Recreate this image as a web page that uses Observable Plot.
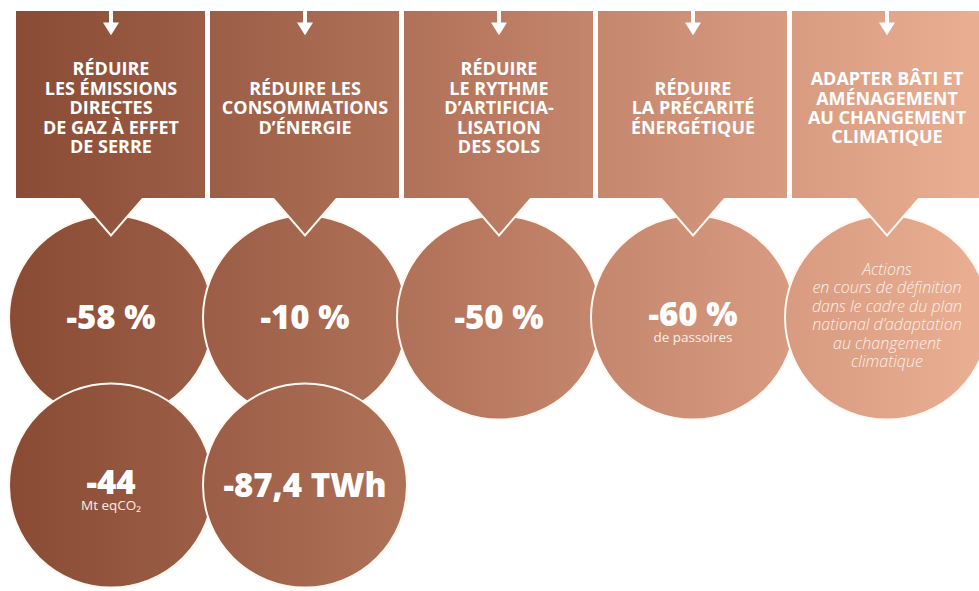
<!DOCTYPE html>
<html>
<head>
<meta charset="utf-8">
<script src="https://cdn.jsdelivr.net/npm/d3@7"></script>
<script src="https://cdn.jsdelivr.net/npm/@observablehq/plot@0.6"></script>
<style>
  html, body { margin: 0; padding: 0; background: #ffffff; }
  #chart { width: 979px; height: 591px; overflow: hidden; }
</style>
</head>
<body>
<div id="chart"></div>
<script>
// ---------- data ----------
const categories = ["ges", "energie", "sols", "precarite", "adaptation"];
const titles = [
  "RÉDUIRE\nLES ÉMISSIONS\nDIRECTES\nDE GAZ À EFFET\nDE SERRE",
  "RÉDUIRE LES\nCONSOMMATIONS\nD’ÉNERGIE",
  "RÉDUIRE\nLE RYTHME\nD’ARTIFICIA-\nLISATION\nDES SOLS",
  "RÉDUIRE\nLA PRÉCARITÉ\nÉNERGÉTIQUE",
  "ADAPTER BÂTI ET\nAMÉNAGEMENT\nAU CHANGEMENT\nCLIMATIQUE"
];
const circleCategory = ["ges", "energie", "sols", "precarite", "adaptation", "ges", "energie"];
const circleRow = [1, 1, 1, 1, 1, 2, 2];
const circleValue = ["-58 %", "-10 %", "-50 %", "-60 %", "", "-44", "-87,4 TWh"];
const circleNote = ["", "", "", "de passoires", "", "Mt eqCO₂", ""];
const circleLongNote = ["", "", "", "", "Actions\nen cours de définition\ndans le cadre du plan\nnational d’adaptation\nau changement\nclimatique", "", ""];

// ---------- layout ----------
const W = 979, H = 591;
const BOX_TOP = 11, BOX_BOTTOM = 198, TITLE_Y = 107.5;
const ROW_Y = {1: 317, 2: 485};
const R = 102;

const boxes = categories.map((c, i) => ({cat: c, title: titles[i]}));
const circles = circleCategory.map((c, i) => ({
  cat: c, row: circleRow[i], value: circleValue[i], note: circleNote[i], long: circleLongNote[i]
}));

const GRAD = "url(#warm)";
const WHITE = "#fff8f1";
const STOPS = [[0, "#894a33"], [0.25, "#9f6149"], [0.5, "#b97a61"], [0.75, "#d3967c"], [1, "#eaae93"]];

// down-pointing wedge below each box (extends into the box, which covers its top)
const wedge = {
  draw(ctx, size) {
    const h = Math.sqrt(size / Math.PI); // half-width at the box bottom
    const depth = h * 37 / 32;
    const e = 12, ew = h + e * h / depth;
    ctx.moveTo(-ew, -e);
    ctx.lineTo(0, depth);
    ctx.lineTo(ew, -e);
    ctx.closePath();
  }
};
// arrow head pointing down
const head = {
  draw(ctx, size) {
    const h = Math.sqrt(size / Math.PI);
    ctx.moveTo(-h, 0);
    ctx.lineTo(h, 0);
    ctx.lineTo(0, h * 1.6);
    ctx.closePath();
  }
};

const font = "'Open Sans', 'DejaVu Sans', sans-serif";

const chart = Plot.plot({
  width: W,
  height: H,
  margin: 0,
  style: {fontFamily: font, background: "#ffffff"},
  x: {type: "band", domain: categories, range: [14, 984], paddingInner: 0.0256, paddingOuter: 0, axis: null},
  y: {type: "linear", domain: [0, H], range: [0, H], axis: null},
  marks: [
    // circles: row 1 then row 2 (later ones overlap earlier ones)
    Plot.dot(circles, {x: "cat", y: d => ROW_Y[d.row], r: R, fill: GRAD, stroke: WHITE, strokeWidth: 2}),
    // wedges
    Plot.dot(boxes, {x: "cat", y: () => BOX_BOTTOM, symbol: wedge, r: 32, fill: GRAD, stroke: WHITE, strokeWidth: 2}),
    // boxes
    Plot.barY(boxes, {x: "cat", y1: () => BOX_TOP, y2: () => BOX_BOTTOM, fill: GRAD}),
    // arrows
    Plot.ruleX(boxes, {x: "cat", y1: () => 0, y2: () => 24, stroke: "#ffffff", strokeWidth: 4}),
    Plot.dot(boxes, {x: "cat", y: () => 22, symbol: head, r: 8, fill: "#ffffff"}),
    // titles
    Plot.text(boxes, {x: "cat", y: () => TITLE_Y, text: "title", fill: "#ffffff", fontSize: 18, fontWeight: 700, lineHeight: 1.08, lineAnchor: "middle", fontFamily: font}),
    // values without note
    Plot.text(circles.filter(d => d.value && !d.note), {x: "cat", y: d => ROW_Y[d.row], dy: 1, text: "value", fill: "#ffffff", fontSize: 33, fontWeight: 800, fontFamily: font, letterSpacing: -1}),
    // values with note
    Plot.text(circles.filter(d => d.value && d.note), {x: "cat", y: d => ROW_Y[d.row], dy: -2, text: "value", fill: "#ffffff", fontSize: 33, fontWeight: 800, fontFamily: font, letterSpacing: -1}),
    // short notes
    Plot.text(circles.filter(d => d.note), {x: "cat", y: d => ROW_Y[d.row], dy: 20, text: "note", fill: "#fbede4", fontSize: 13.5, fontFamily: font}),
    // long italic note
    Plot.text(circles.filter(d => d.long), {x: "cat", y: d => ROW_Y[d.row], dy: -2.5, text: "long", fill: "#fcefe7", fontSize: 16, fontStyle: "italic", fontWeight: 300, lineHeight: 1.16, lineAnchor: "middle", fontFamily: font})
  ]
});

document.getElementById("chart").appendChild(chart);

// one horizontal gradient spanning the whole page; each shape gets a copy
// expressed in its own (translated) coordinate system
const defs = d3.select(chart).insert("defs", ":first-child");
let k = 0;
function paint(el) {
  const m = el.getCTM();
  const id = "warm" + (k++);
  const lg = defs.append("linearGradient")
    .attr("id", id)
    .attr("gradientUnits", "userSpaceOnUse")
    .attr("x1", -m.e).attr("y1", 0).attr("x2", W - m.e).attr("y2", 0);
  STOPS.forEach(([o, c]) => lg.append("stop").attr("offset", o).attr("stop-color", c));
  el.setAttribute("fill", `url(#${id})`);
}
d3.select(chart).selectAll("[fill='url(#warm)']").each(function () {
  if (this.tagName === "g") {
    Array.from(this.children).forEach(paint);
    this.removeAttribute("fill");
  } else {
    paint(this);
  }
});
</script>
</body>
</html>
